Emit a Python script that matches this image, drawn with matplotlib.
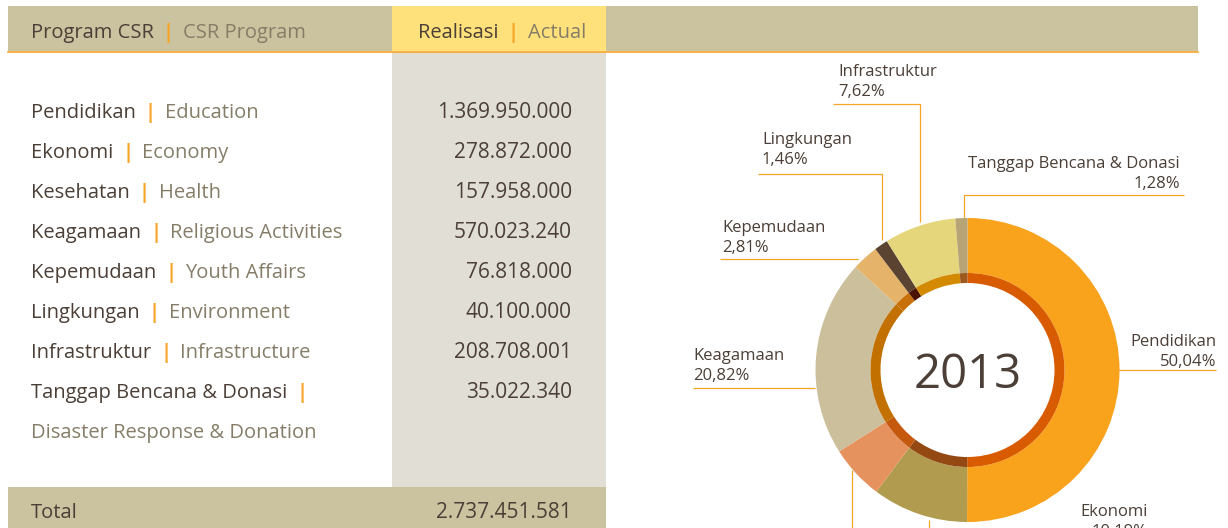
import matplotlib.pyplot as plt
from matplotlib.patches import Rectangle

plt.rcParams['font.family'] = ['Open Sans', 'DejaVu Sans']

# data
program_id = ["Pendidikan", "Ekonomi", "Kesehatan", "Keagamaan", "Kepemudaan",
              "Lingkungan", "Infrastruktur", "Tanggap Bencana & Donasi"]
program_en = ["Education", "Economy", "Health", "Religious Activities", "Youth Affairs",
              "Environment", "Infrastructure", "Disaster Response & Donation"]
realisasi = [1369950000, 278872000, 157958000, 570023240, 76818000,
             40100000, 208708001, 35022340]
tahun = "2013"

# colours
c_dark = "#4b3f37"
c_grey = "#857d67"
c_orange = "#f7a527"
c_band = "#cbc29f"
c_yellow = "#fee17a"
c_col = "#e1ded6"
outer_colors = ["#f9a21c", "#b19b4e", "#e6925e", "#ccc09c", "#e5b46a", "#5a4330", "#e5d67c", "#b6a376"]
inner_colors = ["#d95b00", "#944812", "#c55a0e", "#c27000", "#c8700a", "#4a1200", "#d38a00", "#9e5a1e"]

total = sum(realisasi)
persen = [f"{v / total * 100:.2f}".replace(".", ",") + "%" for v in realisasi]


def fmt(v):
    return f"{v:,}".replace(",", ".")


W, H = 1228, 528
fig = plt.figure(figsize=(W / 100, H / 100), dpi=100)
bg = fig.add_axes([0, 0, 1, 1])
bg.set_xlim(0, W)
bg.set_ylim(H, 0)
bg.axis("off")

# table background
bg.add_patch(Rectangle((8, 6), 1190, 45, color=c_band, lw=0))
bg.add_patch(Rectangle((392, 6), 214, 45, color=c_yellow, lw=0))
bg.add_patch(Rectangle((392, 52), 214, 436, color=c_col, lw=0))
bg.add_patch(Rectangle((8, 487), 598, 45, color=c_band, lw=0))
bg.plot([8, 1198], [51.5, 51.5], color=c_orange, lw=1.2)

FS = 14.5
FS_NUM = 15
DY = 2  # Open Sans sits a little high with va="center"


def multi(x, y, parts, fs=FS):
    # parts: list of (text, colour); drawn one after another on the same line
    t = bg.text(x, y + DY, parts[0][0], color=parts[0][1], fontsize=fs, va="center", ha="left")
    for txt, col in parts[1:]:
        bold = "bold" if txt == "|" else "normal"
        t = bg.annotate(txt, xy=(1, 0.5), xycoords=t, xytext=(6.5, 0), textcoords="offset points",
                        color=col, fontsize=fs, va="center", ha="left", fontweight=bold)
    return t


multi(31, 31, [("Program CSR", c_dark), ("|", c_orange), ("CSR Program", c_grey)])
multi(418, 31, [("Realisasi", c_dark), ("|", c_orange), ("Actual", c_grey)])

row_y = 111
for i, (nid, nen, val) in enumerate(zip(program_id, program_en, realisasi)):
    y = row_y + 40 * i
    if i == len(program_id) - 1:
        multi(31, y, [(nid, c_dark), ("|", c_orange)])
        bg.text(31, y + 40 + DY, nen, color=c_grey, fontsize=FS, va="center", ha="left")
    else:
        multi(31, y, [(nid, c_dark), ("|", c_orange), (nen, c_grey)])
    bg.text(572, y + DY, fmt(val), color=c_dark, fontsize=FS_NUM, va="center", ha="right")

bg.text(31, 511 + DY, "Total", color=c_dark, fontsize=FS, va="center", ha="left")
bg.text(572, 511 + DY, fmt(total), color=c_dark, fontsize=FS_NUM, va="center", ha="right")

# donut
cx, cy, R = 967.5, 370, 152
ax = fig.add_axes([(cx - R) / W, (H - cy - R) / H, 2 * R / W, 2 * R / H])
ax.pie(realisasi, radius=1, startangle=90, counterclock=False, colors=outer_colors,
       wedgeprops=dict(width=55 / R, linewidth=0))
ax.pie(realisasi, radius=97 / R, startangle=90, counterclock=False, colors=inner_colors,
       wedgeprops=dict(width=10 / R, linewidth=0))
ax.set_xlim(-1, 1)
ax.set_ylim(-1, 1)
ax.axis("off")
ax.text(0, -0.035, tahun, fontsize=34, color=c_dark, ha="center", va="center")

# pie labels: text anchor (x, y of first line, ha) and leader path
label_layout = [
    (1216, 340, "right", [(1118, 370), (1216, 370)]),
    (1148, 511, "right", [(929, 520), (929, 528)]),
    (None, None, None, [(852, 470), (852, 528)]),
    (693, 355, "left", [(693, 388), (815, 388)]),
    (722, 226, "left", [(720, 259), (858, 259)]),
    (762, 139, "left", [(758, 174), (882, 174), (882, 240)]),
    (838, 71, "left", [(833, 104), (920, 104), (920, 222)]),
    (1180, 162, "right", [(1184, 195), (964, 195), (964, 218)]),
]
for name, pct, (lx, ly, ha, path) in zip(program_id, persen, label_layout):
    xs, ys = zip(*path)
    bg.plot(xs, ys, color=c_orange, lw=0.9, solid_capstyle="butt")
    if lx is None:
        continue
    bg.text(lx, ly + 1.5, name, fontsize=12, color=c_dark, ha=ha, va="center")
    bg.text(lx, ly + 21.5, pct, fontsize=12, color=c_dark, ha=ha, va="center")

fig.savefig("out.png", dpi=100)
